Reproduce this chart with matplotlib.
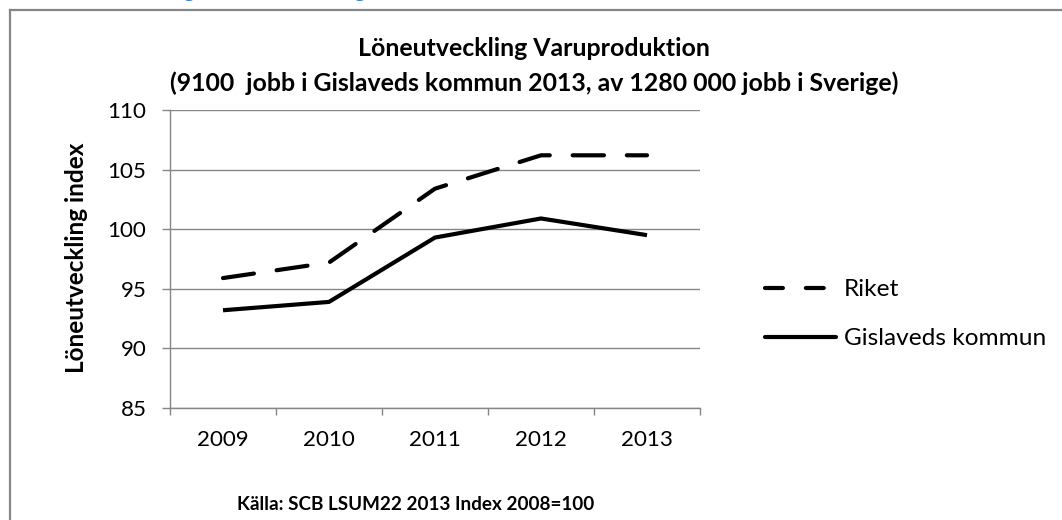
import numpy as np
from matplotlib import pyplot as plt
from matplotlib.lines import Line2D

# Data:
years = ['2009', '2010', '2011', '2012', '2013']
riket = [95.9, 97.2, 103.4, 106.2, 106.2]
gislaved = [93.2, 93.9, 99.3, 100.9, 99.5]
series_names = ['Riket', 'Gislaveds kommun']
y_ticks = [85, 90, 95, 100, 105, 110]

title_lines = ['Löneutveckling Varuproduktion',
               '(9100  jobb i Gislaveds kommun 2013, av 1280 000 jobb i Sverige)']
y_label = 'Löneutveckling index'
source = 'Källa: SCB LSUM22 2013 Index 2008=100'
heading = 'Löneutveckling och lönesättning'

plt.rcParams['font.family'] = ['Lato', 'DejaVu Sans']
GRAY = '#868686'
W, H = 1062, 520


def px(x, y):
    # pixel position (from top-left) -> figure fraction
    return x / W, 1 - y / H


def fit_width(txt, target, renderer, rotated=False):
    # scale the font size of a text so that its length is `target` pixels
    bb = txt.get_window_extent(renderer)
    size = bb.height if rotated else bb.width
    txt.set_fontsize(txt.get_fontsize() * target / size)
    return txt.get_fontsize()


fig = plt.figure(figsize=(W / 100, H / 100), dpi=100)
fig.patch.set_facecolor('white')

# Outer chart frame (cut at the right and bottom in the reference):
fig.add_artist(Line2D([10 / W, 10 / W], [0, 1 - 10 / H], color=GRAY, lw=1.6))
fig.add_artist(Line2D([10 / W, 1], [1 - 10 / H, 1 - 10 / H], color=GRAY, lw=1.6))

ax = fig.add_axes([170 / W, (H - 408) / H, 530 / W, 298 / H])
x = np.arange(len(years))
ax.plot(x, riket, color='black', lw=3, linestyle=(0, (7.5, 5.5)), dash_capstyle='round')
ax.plot(x, gislaved, color='black', lw=3, solid_capstyle='butt', solid_joinstyle='round')

## Axes styling:
ax.set_xlim(-0.5, len(years) - 0.5)
ax.set_ylim(min(y_ticks), max(y_ticks))
ax.set_yticks(y_ticks)
ax.set_xticks(x)
ax.set_xticklabels(years)
ax.set_xticks(np.arange(-0.5, len(years)), minor=True)
ax.tick_params(axis='x', which='major', length=0, pad=16, labelsize=16)
ax.tick_params(axis='x', which='minor', length=5, width=1, color=GRAY, direction='out')
ax.tick_params(axis='y', length=6, width=1, color=GRAY, pad=11, labelsize=16)
ax.grid(axis='y', color=GRAY, lw=1)
ax.set_axisbelow(True)
for side in ['top', 'right']:
    ax.spines[side].set_visible(False)
for side in ['left', 'bottom']:
    ax.spines[side].set_color(GRAY)
    ax.spines[side].set_linewidth(1)

## Titles and labels:
t1 = fig.text(*px(534, 48), title_lines[0], ha='center', va='center', fontsize=14, weight='bold')
t2 = fig.text(*px(534, 83), title_lines[1], ha='center', va='center', fontsize=14, weight='bold')
yl = fig.text(*px(77, 258), y_label, ha='center', va='center', rotation=90,
              fontsize=15, weight='bold')
src = fig.text(*px(416, 505), source, ha='center', va='center', fontsize=13, weight='bold')

## Clipped blue heading above the chart (only descenders show):
head = fig.text(0, 1 + 3 / H, heading, color='#3c7cc8', fontsize=13, weight='bold',
                va='baseline', ha='left')
probe = fig.text(0, 0, '', fontsize=13, weight='bold')

## Legend with Excel-like short dashes:
handles = [Line2D([], [], color='black', lw=3, linestyle=(0, (4.3, 5.5)), dash_capstyle='round'),
           Line2D([], [], color='black', lw=3, solid_capstyle='round')]
leg_probe = fig.text(0, 0, series_names[1], fontsize=16)

fig.canvas.draw()
r = fig.canvas.get_renderer()

# Fit the text sizes to the reference widths:
size = fit_width(t2, 733, r)
t1.set_fontsize(size)
fit_width(yl, 231, r, rotated=True)
fit_width(src, 357, r)
tick_size = 16 * 52 / ax.get_xticklabels()[0].get_window_extent(r).width
ax.tick_params(axis='both', labelsize=tick_size)
leg_size = fit_width(leg_probe, 202, r)
leg_probe.remove()

# Heading: place the two 'g' descenders near x = 192 and 363 px
probe.set_text('Löneutvecklin')
w1 = probe.get_window_extent(r).width
probe.set_text(heading[:-1])
w2 = probe.get_window_extent(r).width
scale = (363 - 192) / (w2 - w1)
head.set_fontsize(13 * scale)
head.set_x((192 - w1 * scale - 8) / W)
probe.remove()

fig.legend(handles, series_names, loc='upper left', bbox_to_anchor=px(765, 279),
           frameon=False, fontsize=leg_size, handlelength=2.9, handletextpad=0.35,
           labelspacing=1.15, borderpad=0, borderaxespad=0)

plt.savefig('out.png', dpi=100, facecolor='white')
plt.close(fig)
